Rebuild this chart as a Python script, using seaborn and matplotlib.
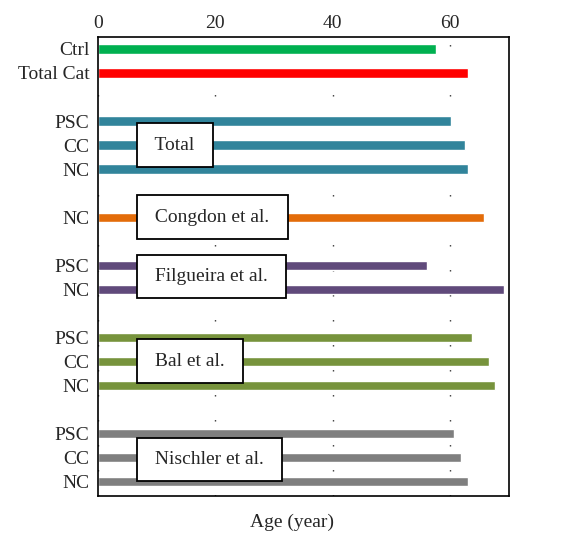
import pandas as pd
import seaborn as sns
import matplotlib.pyplot as plt

# Data
labels = ['Ctrl', 'Total Cat', 'PSC', 'CC', 'NC', 'NC', 'PSC', 'NC',
          'PSC', 'CC', 'NC', 'PSC', 'CC', 'NC']
slots = [0, 1, 3, 4, 5, 7, 9, 10, 12, 13, 14, 16, 17, 18]
groups = ['Ctrl', 'Total Cat', 'Total', 'Total', 'Total', 'Congdon et al.',
          'Filgueira et al.', 'Filgueira et al.', 'Bal et al.', 'Bal et al.',
          'Bal et al.', 'Nischler et al.', 'Nischler et al.', 'Nischler et al.']
ages = [57.6, 63.1, 60.1, 62.6, 63.1, 65.7, 56.1, 69.1, 63.8, 66.7, 67.6,
        60.6, 61.8, 63.1]

colors = {'Ctrl': '#00b050', 'Total Cat': '#ff0000', 'Total': '#31849b',
          'Congdon et al.': '#e36c09', 'Filgueira et al.': '#604a7b',
          'Bal et al.': '#77933c', 'Nischler et al.': '#7f7f7f'}

# Study name boxes and the slot they sit at
box_names = ['Total', 'Congdon et al.', 'Filgueira et al.', 'Bal et al.', 'Nischler et al.']
box_slots = [4, 7, 9.47, 13, 17.1]

data = pd.DataFrame({'slot': slots, 'age': ages, 'group': groups})

sns.set_style('white')
plt.rcParams['font.family'] = ['Liberation Serif', 'DejaVu Serif']

fig = plt.figure(figsize=(5.66, 5.47), dpi=100)
ax = fig.add_axes([0.173, 0.093, 0.726, 0.839])

sns.barplot(data=data, x='age', y='slot', hue='group', palette=colors,
            orient='y', native_scale=True, dodge=False, width=0.38,
            errorbar=None, legend=False, saturation=1, ax=ax)

ax.set_xlim(0, 70)
ax.set_ylim(18.62, -0.49)
ax.set_yticks(slots)
ax.set_yticklabels(labels)
ax.set_ylabel('')
ax.set_xticks([0, 20, 40, 60])
ax.xaxis.tick_top()
ax.tick_params(axis='both', length=0, labelsize=14)
ax.tick_params(axis='x', pad=4)
ax.tick_params(axis='y', pad=6)
ax.set_xlabel('Age (year)', fontsize=14, labelpad=13, x=0.473)
ax.xaxis.set_label_position('bottom')

ax.set_axisbelow(True)
ax.grid(axis='x', color='#333333', linewidth=1, linestyle=(0, (1, 17)))

for side in ['top', 'bottom', 'left', 'right']:
    ax.spines[side].set_visible(True)
    ax.spines[side].set_color('black')
    ax.spines[side].set_linewidth(1.2)

for name, pos in zip(box_names, box_slots):
    ax.text(8.95, pos, ' ' + name + ' ', ha='left', va='center', fontsize=14,
            bbox=dict(boxstyle='square,pad=0.68', facecolor='white',
                      edgecolor='black', linewidth=1.3))

plt.savefig('out.png', dpi=100)
